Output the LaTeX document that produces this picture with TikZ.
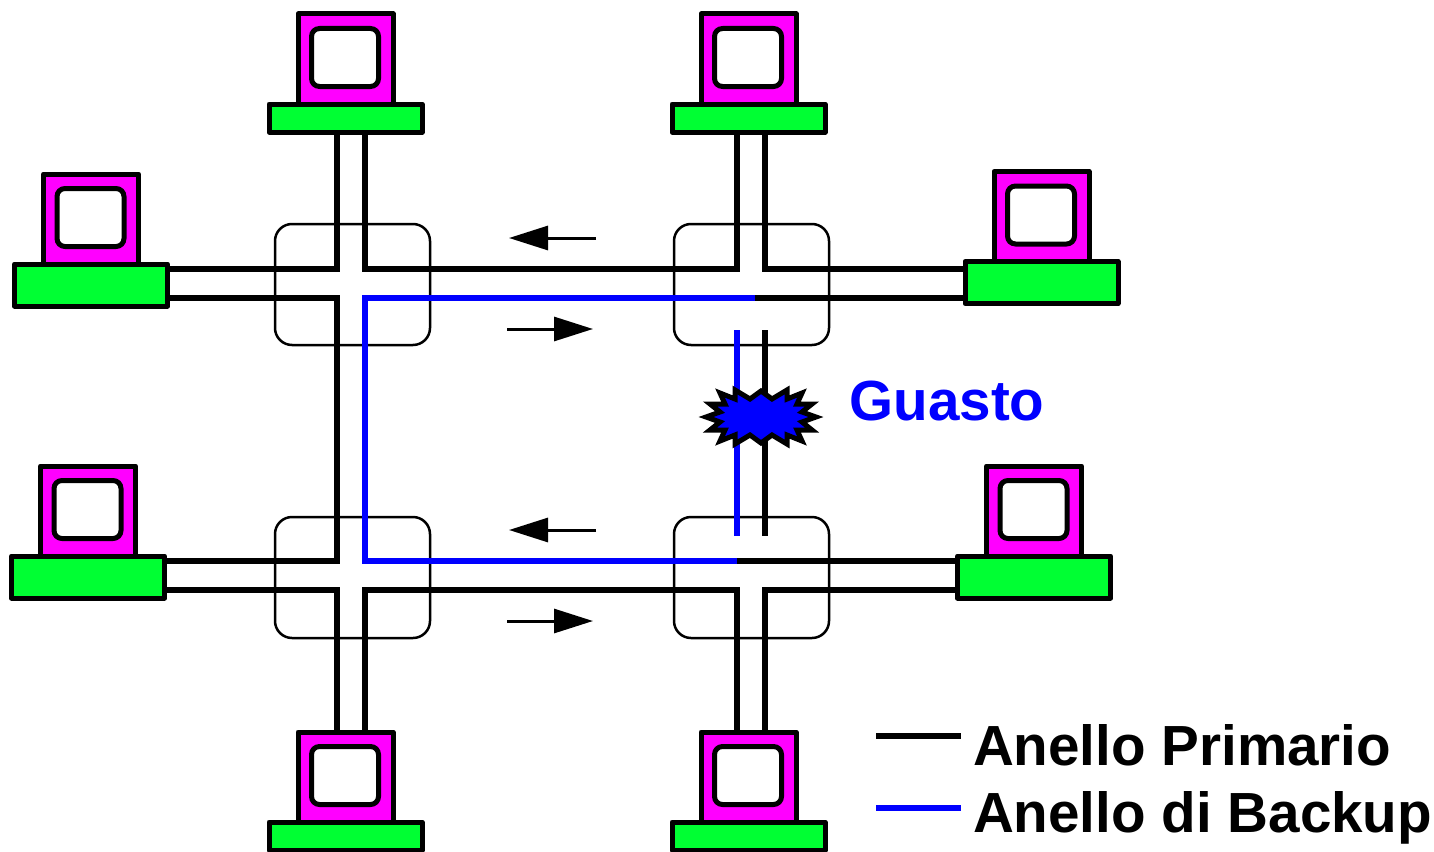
\documentclass[tikz,border=0pt]{standalone}
\usepackage{fontspec}
\setmainfont{Liberation Sans}
\usetikzlibrary{arrows.meta,calc,backgrounds}
\definecolor{pcgreen}{HTML}{00FF33}
\definecolor{pcmag}{HTML}{FF00FF}
\definecolor{ringblue}{HTML}{0000FF}
\tikzset{
  box/.style={draw=black,line width=5pt,inner sep=0pt,outer sep=0pt,anchor=north west,rectangle,line join=round},
  monitor/.style={box,fill=pcmag,minimum width=95pt,minimum height=90pt},
  screen/.style={box,fill=white,minimum width=67pt,minimum height=58pt,rounded corners=8pt},
  bigbase/.style={box,fill=pcgreen,minimum width=153pt,minimum height=42pt},
  thinbase/.style={box,fill=pcgreen,minimum width=153pt,minimum height=28pt},
  ringbox/.style={draw=black,line width=2.5pt,rounded corners=17pt,inner sep=0pt,outer sep=0pt,rectangle,minimum width=155pt,minimum height=121pt,anchor=north west},
  wire/.style={draw=black,line width=5.2pt,line join=miter},
  bwire/.style={draw=ringblue,line width=5.2pt,line join=miter},
  flow/.style={draw=black,line width=3pt,-{Triangle[length=39pt,width=24pt]}},
  legend/.style={font=\fontsize{56.6}{60}\selectfont\bfseries,anchor=base west,inner sep=0pt,outer sep=0pt},
}
\newcommand{\pcbig}[3]{%
  \node[monitor] (#1m) at (#2,#3) {};
  \node[screen] (#1s) at ($(#2,#3)+(13.5,14.5)$) {};
  \node[bigbase] (#1b) at ($(#2,#3)+(-29,90)$) {};
}
\newcommand{\pcthin}[3]{%
  \node[monitor] (#1m) at (#2,#3) {};
  \node[screen] (#1s) at ($(#2,#3)+(13.5,14.5)$) {};
  \node[thinbase] (#1b) at ($(#2,#3)+(-29,90)$) {};
}
\begin{document}
\begin{tikzpicture}[x=1pt,y=-1pt]
\useasboundingbox (0,0) rectangle (1434,851);
% computers
\pcthin{ta}{298}{14}
\pcthin{tb}{701}{14}
\pcbig{la}{43.5}{174}
\pcbig{ra}{994}{171.5}
\pcbig{lb}{40.5}{466}
\pcbig{rb}{986.5}{466}
\pcthin{ba}{298}{732}
\pcthin{bb}{701}{732}
% rails
\coordinate (V1) at (337,0);
\coordinate (V2) at (365,0);
\coordinate (V3) at (737,0);
\coordinate (V4) at (765,0);
\coordinate (H1) at (0,269);
\coordinate (H2) at (0,298);
\coordinate (H3) at (0,561);
\coordinate (H4) at (0,590);
\coordinate (J1) at (755,298);
\coordinate (G1) at (0,330);
\coordinate (G2) at (0,536);
\begin{pgfonlayer}{background}
% ring boxes
\node[ringbox] (rtl) at (275,224) {};
\node[ringbox] (rtr) at (674,224) {};
\node[ringbox] (rbl) at (275,517) {};
\node[ringbox] (rbr) at (674,517) {};
% black wires
\draw[wire] (lab.east |- H1) -- (V1 |- H1) -- (V1 |- tab.south);
\draw[wire] (V2 |- tab.south) -- (V2 |- H1) -- (V3 |- H1) -- (V3 |- tbb.south);
\draw[wire] (V4 |- tbb.south) -- (V4 |- H1) -- (rab.west |- H1);
\draw[wire] (lab.east |- H2) -- (V1 |- H2) -- (V1 |- H3) -- (lbb.east |- H3);
\draw[wire] (J1) -- (rab.west |- H2);
\draw[wire] (V4 |- G1) -- (V4 |- G2);
\draw[wire] (V3 |- H3) -- (rbb.west |- H3);
\draw[wire] (lbb.east |- H4) -- (V1 |- H4) -- (V1 |- bab.north);
\draw[wire] (V2 |- bab.north) -- (V2 |- H4) -- (V3 |- H4) -- (V3 |- bbb.north);
\draw[wire] (V4 |- bbb.north) -- (V4 |- H4) -- (rbb.west |- H4);
% blue wires
\draw[bwire] (J1) -- (V2 |- H2) -- (V2 |- H3) -- (V3 |- H3);
\draw[bwire] (V3 |- G1) -- (V3 |- G2);
\end{pgfonlayer}
% fault burst
\coordinate (burst) at (761,417);
\draw[line width=5pt,line join=miter,miter limit=20,fill=ringblue,shift={(burst)}]
  (-55,0) -- (-41,-5) -- (-51,-13) -- (-36,-13) -- (-41,-24) -- (-26,-18) -- (-26,-27) -- (-11,-18) -- (0,-26)
  -- (11,-18) -- (26,-27) -- (26,-18) -- (41,-24) -- (36,-13) -- (51,-13) -- (41,-5) -- (55,0)
  -- (41,5) -- (51,13) -- (36,13) -- (41,24) -- (26,18) -- (26,27) -- (11,18) -- (0,26)
  -- (-11,18) -- (-26,27) -- (-26,18) -- (-41,24) -- (-36,13) -- (-51,13) -- (-41,5) -- cycle;
% flow arrows
\coordinate (a1s) at (596,238); \coordinate (a1e) at (509,238);
\coordinate (a2s) at (507,329); \coordinate (a2e) at (593,329);
\coordinate (a3s) at (596,530); \coordinate (a3e) at (509,530);
\coordinate (a4s) at (507,621); \coordinate (a4e) at (593,621);
\draw[flow] (a1s) -- (a1e);
\draw[flow] (a2s) -- (a2e);
\draw[flow] (a3s) -- (a3e);
\draw[flow] (a4s) -- (a4e);
% labels
\node[legend,text=ringblue] (guasto) at (849.5,420) {Guasto};
\coordinate (l1s) at (876,736); \coordinate (l1e) at (961,736);
\coordinate (l2s) at (876,808); \coordinate (l2e) at (961,808);
\draw[wire] (l1s) -- (l1e);
\draw[bwire] (l2s) -- (l2e);
\node[legend] (lp) at (973,765) {Anello Primario};
\node[legend] (lb2) at (973,832) {Anello di Backup};
\end{tikzpicture}
\end{document}
